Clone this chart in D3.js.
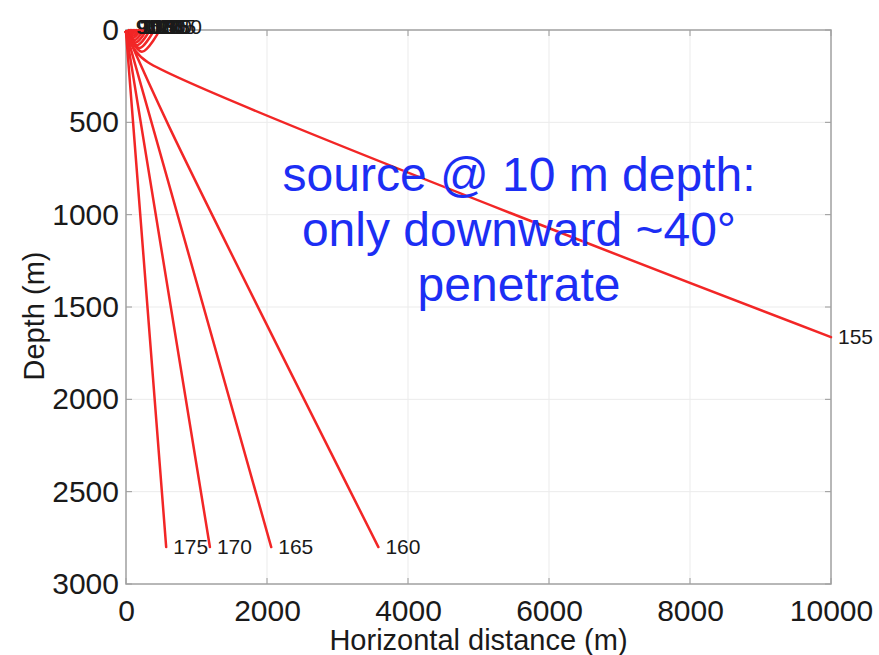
<!DOCTYPE html>
<html>
<head>
<meta charset="utf-8">
<script src="https://cdn.jsdelivr.net/npm/d3@7"></script>
<style>
  html, body { margin: 0; padding: 0; background: #fff; }
  svg { display: block; }
  text { font-family: "Liberation Sans", Arial, Helvetica, sans-serif; }
</style>
</head>
<body>
<svg id="chart" width="879" height="655"></svg>
<script>
// Ray launch angles (degrees) and the traced paths: horizontal distance (m) and depth (m)
const rayAngles = [90, 95, 100, 105, 110, 115, 120, 125, 130, 135, 140, 145, 150, 155, 160, 165, 170, 175];
const rayDistance = [
  [0, 15, 40],
  [0, 25, 60],
  [0, 35, 80],
  [0, 45, 100],
  [0, 55, 125],
  [0, 65, 150],
  [0, 80, 180],
  [0, 95, 210],
  [0, 115, 250],
  [0, 135, 290],
  [0, 160, 340],
  [0, 190, 400],
  [0, 225, 480],
  [0, 130, 310, 10000],
  [0, 620, 3580],
  [0, 2060],
  [0, 1190],
  [0, 570]
];
const rayDepth = [
  [10, 11, 0],
  [10, 12, 0],
  [10, 14, 0],
  [10, 17, 0],
  [10, 21, 0],
  [10, 26, 0],
  [10, 34, 0],
  [10, 43, 0],
  [10, 55, 0],
  [10, 68, 0],
  [10, 82, 0],
  [10, 98, 0],
  [10, 118, 0],
  [10, 110, 175, 1663],
  [10, 530, 2800],
  [10, 2800],
  [10, 2800],
  [10, 2800]
];
const xTicks = [0, 2000, 4000, 6000, 8000, 10000];
const yTicks = [0, 500, 1000, 1500, 2000, 2500, 3000];
const noteLines = ["source @ 10 m depth:", "only downward ~40°", "penetrate"];

const svg = d3.select("#chart");
const plotL = 126, plotR = 831, plotT = 30, plotB = 584;

const x = d3.scaleLinear().domain([0, 10000]).range([plotL, plotR]);
const y = d3.scaleLinear().domain([0, 3000]).range([plotT, plotB]);

svg.append("rect").attr("width", 879).attr("height", 655).attr("fill", "#fff");

// grid
const grid = svg.append("g").attr("stroke", "#ebebeb").attr("stroke-width", 1);
grid.selectAll(".gx").data(xTicks.slice(1, -1)).join("line")
  .attr("x1", d => x(d)).attr("x2", d => x(d)).attr("y1", plotT).attr("y2", plotB);
grid.selectAll(".gy").data(yTicks.slice(1, -1)).join("line")
  .attr("x1", plotL).attr("x2", plotR).attr("y1", d => y(d)).attr("y2", d => y(d));

// axes: labels only, inward tick marks drawn separately
const xAxis = svg.append("g").attr("transform", `translate(0,${plotB})`)
  .call(d3.axisBottom(x).tickValues(xTicks).tickSize(0).tickPadding(16).tickFormat(d3.format("d")));
const yAxis = svg.append("g").attr("transform", `translate(${plotL},0)`)
  .call(d3.axisLeft(y).tickValues(yTicks).tickSize(0).tickPadding(7).tickFormat(d3.format("d")));
[xAxis, yAxis].forEach(a => {
  a.select(".domain").remove();
  a.selectAll("text").attr("font-size", 30).attr("fill", "#1a1a1a")
    .attr("font-family", "'Liberation Sans', Arial, sans-serif");
});

const ticks = svg.append("g").attr("stroke", "#9a9a9a").attr("stroke-width", 1);
ticks.selectAll(".tb").data(xTicks).join("line")
  .attr("x1", d => x(d)).attr("x2", d => x(d)).attr("y1", plotB).attr("y2", plotB - 6);
ticks.selectAll(".tt").data(xTicks).join("line")
  .attr("x1", d => x(d)).attr("x2", d => x(d)).attr("y1", plotT).attr("y2", plotT + 6);
ticks.selectAll(".tl").data(yTicks).join("line")
  .attr("x1", plotL).attr("x2", plotL + 6).attr("y1", d => y(d)).attr("y2", d => y(d));
ticks.selectAll(".tr").data(yTicks).join("line")
  .attr("x1", plotR).attr("x2", plotR - 6).attr("y1", d => y(d)).attr("y2", d => y(d));

// plot box
svg.append("rect").attr("x", plotL).attr("y", plotT)
  .attr("width", plotR - plotL).attr("height", plotB - plotT)
  .attr("fill", "none").attr("stroke", "#a0a0a0").attr("stroke-width", 1.5);

// rays
const rays = rayAngles.map((a, i) => ({
  angle: a,
  pts: rayDistance[i].map((d, j) => [d, rayDepth[i][j]])
}));
const line = d3.line().x(d => x(d[0])).y(d => y(d[1])).curve(d3.curveCatmullRom.alpha(0.5));
svg.append("g").selectAll("path").data(rays).join("path")
  .attr("d", d => line(d.pts))
  .attr("fill", "none").attr("stroke", "#f22626").attr("stroke-width", 2.5)
  .attr("stroke-linejoin", "round").attr("stroke-linecap", "round");

// angle labels at ray ends
svg.append("g").selectAll("text").data(rays).join("text")
  .attr("x", d => x(d.pts[d.pts.length - 1][0]) + 7)
  .attr("y", d => y(d.pts[d.pts.length - 1][1]) - (d.pts[d.pts.length - 1][1] === 0 ? 3 : 0))
  .attr("dy", "0.35em")
  .attr("font-size", 21).attr("fill", "#1a1a1a")
  .text(d => d.angle);

// axis titles
svg.append("text").attr("x", (plotL + plotR) / 2).attr("y", 650)
  .attr("text-anchor", "middle").attr("font-size", 29).attr("fill", "#1a1a1a")
  .text("Horizontal distance (m)");
svg.append("text").attr("transform", "translate(44,316) rotate(-90)")
  .attr("text-anchor", "middle").attr("font-size", 29).attr("fill", "#1a1a1a")
  .text("Depth (m)");

// annotation
svg.append("g").selectAll("text").data(noteLines).join("text")
  .attr("x", 519).attr("y", (d, i) => 191 + i * 55)
  .attr("text-anchor", "middle").attr("font-size", 48).attr("fill", "#1c2ef4")
  .text(d => d);
</script>
</body>
</html>
